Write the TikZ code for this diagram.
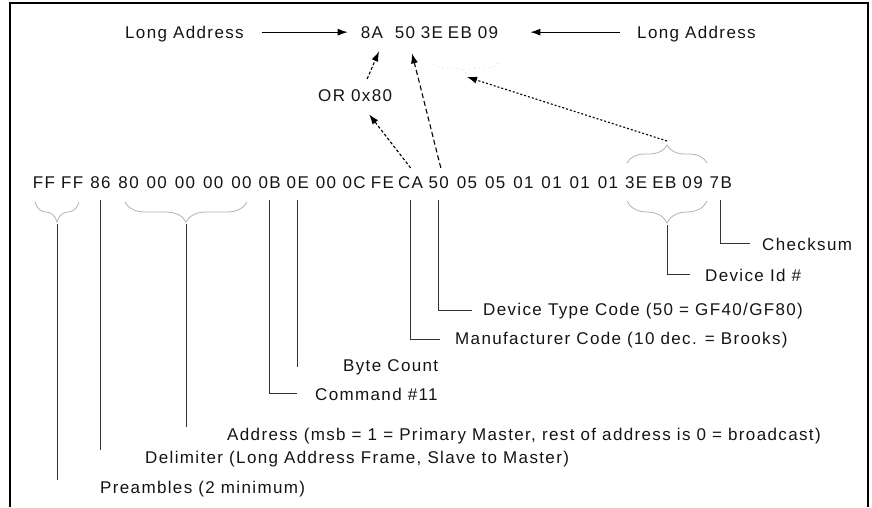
\documentclass[tikz,border=0pt]{standalone}
\usepackage{fontspec}
\setmainfont{Liberation Sans}[LetterSpace=8]
\usetikzlibrary{arrows.meta,calc,decorations.pathreplacing}
\begin{document}
\begin{tikzpicture}[x=1pt,y=-1pt,
  every node/.style={font=\fontsize{17}{20}\selectfont, inner sep=0pt, text=black!92},
  lbl/.style={anchor=base west},
  byte/.style={anchor=base},
  conn/.style={draw=black!80, line width=0.9pt},
  arr/.style={line width=1.1pt, -{Latex[length=10pt,width=7pt]}},
  brc/.style={draw=gray!60, line width=0.8pt, decorate, decoration={brace, amplitude=#1}},
]
\useasboundingbox (0,0) rectangle (872,507);
\draw[line width=2pt] (10,507) -- (10,3) -- (868,3) -- (868,507);

% top row
\node[lbl] (la1) at (125,38) {Long Address};
\node[lbl] (la2) at (637,38) {Long Address};
\foreach \t/\x [count=\i] in {8A/372,50/405,3E/432,EB/460,09/488}
  \node[byte] (t\i) at (\x,38) {\t};
\node[lbl] (orx) at (318,101) {OR 0x80};

% byte row
\foreach \t [count=\i] in {FF,FF,86,80,00,00,00,00,0B,0E,00,0C,FE,CA,50,05,05,01,01,01,01,3E,EB,09,7B}
  \node[byte] (b\i) at ({44+28.2*(\i-1)},188) {\t};

% labels
\node[lbl] (cks) at (762,250) {Checksum};
\node[lbl] (did) at (705,281) {Device Id \#};
\node[lbl] (dtc) at (483,315) {Device Type Code (50 = GF40/GF80)};
\node[lbl] (mfc) at (455,344) {Manufacturer Code (10 dec. = Brooks)};
\node[lbl] (bct) at (343,371) {Byte Count};
\node[lbl] (cmd) at (315,400) {Command \#11};
\node[lbl] (adr) at (227,440) {Address (msb = 1 = Primary Master, rest of address is 0 = broadcast)};
\node[lbl] (dlm) at (145,463) {Delimiter (Long Address Frame, Slave to Master)};
\node[lbl] (pre) at (100,493) {Preambles (2 minimum)};

% braces
\coordinate (pretip) at (57,224);
\coordinate (adrtip) at (186,224);
\coordinate (devtip) at (667,225);
\coordinate (devtop) at (667,143);
\coordinate (toptip) at (465,74);
\draw[brc=20] (79,202) -- (35,202);
\draw[brc=20] (247,202) -- (125,202);
\draw[brc=22] (707,201) -- (627,201);
\draw[brc=18] (627,163) -- (707,163);
\draw[brc=10, draw=gray!30, dash pattern=on 1pt off 4pt] (498,63) -- (433,63);

% connectors
\draw[conn] (pretip) -- (pretip |- pre.north);
\draw[conn] ($(b3.south)+(0,12)$) -- (b3.south |- dlm.north);
\draw[conn] (adrtip) -- (adrtip |- adr.north);
\draw[conn] ($(b9.south)+(0,12)$) |- ([xshift=-18pt]cmd.west);
\draw[conn] ($(b10.south)+(0,12)$) -- (b10.south |- bct.west);
\draw[conn] ($(b14.south)+(0,12)$) |- ([xshift=-15pt]mfc.west);
\draw[conn] ($(b15.south)+(0,12)$) |- ([xshift=-11pt]dtc.west);
\draw[conn] (devtip) |- ([xshift=-15pt]did.west);
\draw[conn] ($(b25.south)+(0,12)$) |- ([xshift=-12pt]cks.west);

% arrows
\draw[arr, shorten <=18pt, shorten >=13pt] (t1.west -| la1.east) -- (t1.west);
\draw[arr, shorten <=17pt, shorten >=32pt] (t5.east -| la2.west) -- (t5.east);
\draw[arr, dash pattern=on 3pt off 2pt] ($(orx.north)+(12,-10)$) -- ($(t1.south)+(7,13)$);
\draw[arr, dash pattern=on 3pt off 2pt] ($(b14.north)+(0,-8)$) -- ($(orx.south)+(14,13)$);
\draw[arr, dash pattern=on 5pt off 3pt] ($(b15.north)+(2,-8)$) -- ($(t2.south)+(7,15)$);
\draw[arr, dash pattern=on 2pt off 2pt] ($(devtop)+(0,-2)$) -- ($(toptip)+(2,3)$);
\end{tikzpicture}
\end{document}
